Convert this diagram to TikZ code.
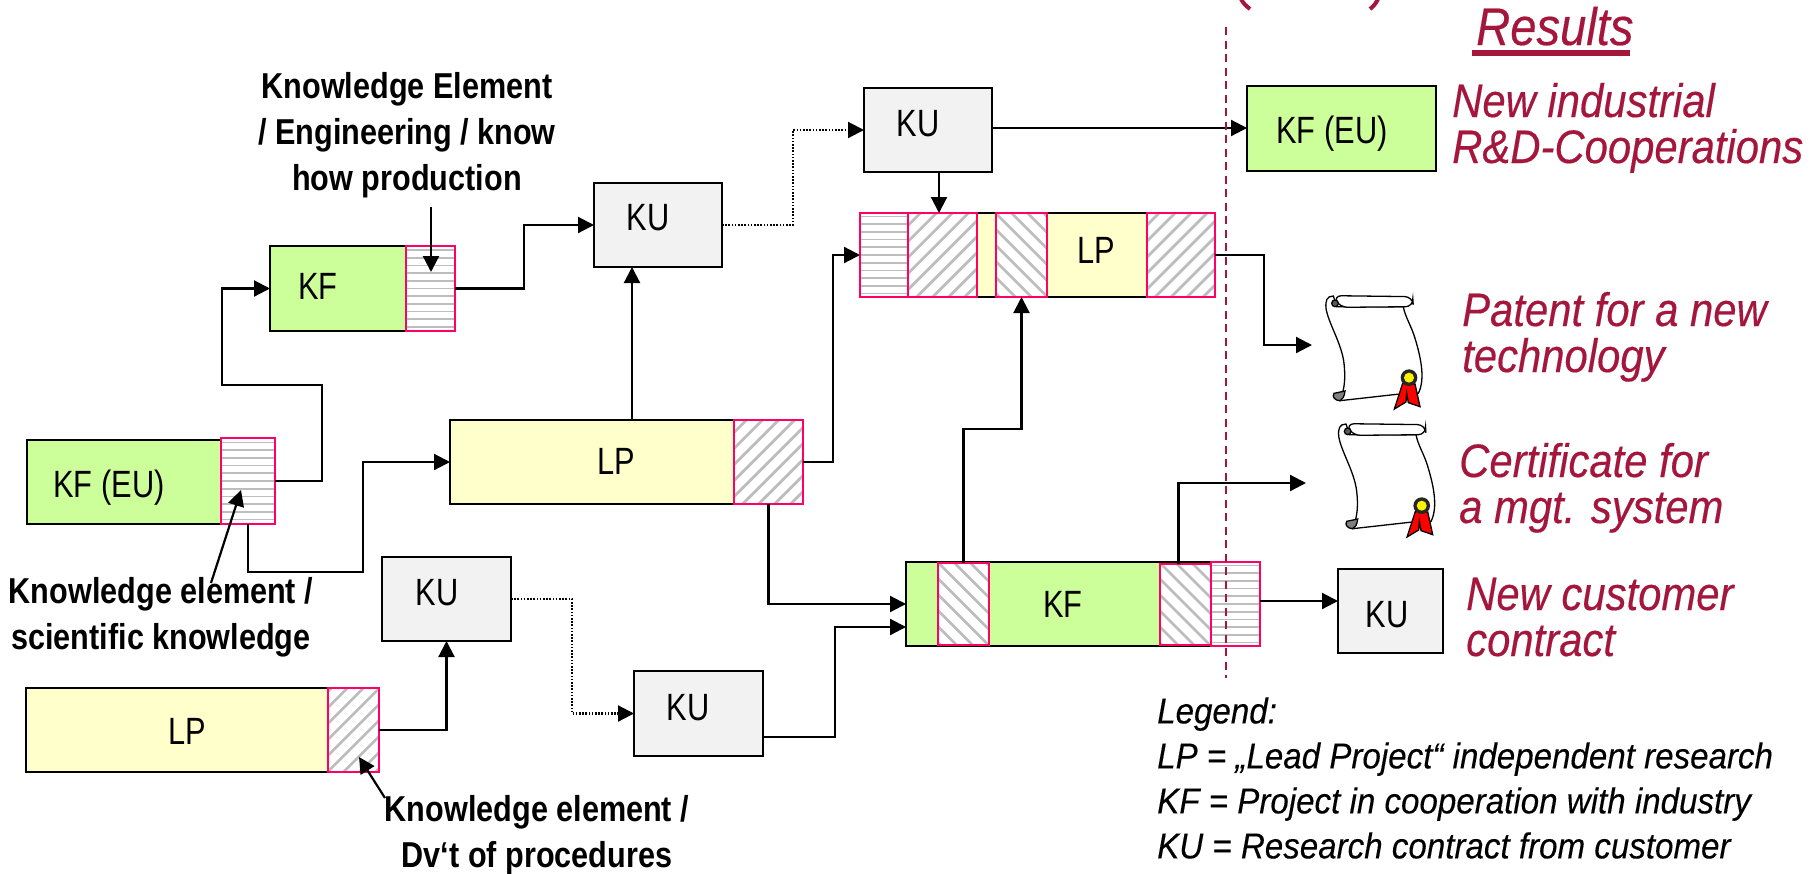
\documentclass[tikz,border=0pt]{standalone}
\usepackage{fontspec}
\usetikzlibrary{arrows.meta}
\newfontfamily\flabel[FakeStretch=0.81]{Liberation Sans}
\newfontfamily\fnote[FakeStretch=0.85]{Liberation Sans}
\newfontfamily\flegend[FakeStretch=0.92,FakeBold=0.2]{Liberation Sans}
\newfontfamily\fred[FakeStretch=0.89,FakeBold=0.35]{Liberation Sans}
\definecolor{kfgreen}{HTML}{CCFF99}
\definecolor{lpyellow}{HTML}{FFFFCC}
\definecolor{kugray}{HTML}{F2F2F2}
\definecolor{edgepink}{HTML}{FF0066}
\definecolor{hatchgray}{HTML}{BDBDBD}
\definecolor{crimson}{HTML}{A5163C}
\tikzset{
  plainbox/.style={draw=black,line width=2.2pt,inner sep=0pt,outer sep=0pt},
  kfbox/.style={plainbox,fill=kfgreen},
  lpbox/.style={plainbox,fill=lpyellow},
  kubox/.style={plainbox,fill=kugray},
  hatchbase/.style={draw=edgepink,line width=2.2pt,fill=white,inner sep=0pt,outer sep=0pt},
  hatchflat/.style={hatchbase,path picture={
    \begin{scope}[shift={(path picture bounding box.center)}]
      \foreach \d in {-100.1,-92.4,...,100} \draw[hatchgray,line width=1.7pt] (-100,\d) -- (100,\d);
    \end{scope}}},
  hatchup/.style={hatchbase,path picture={
    \begin{scope}[shift={(path picture bounding box.center)}]
      \foreach \d in {-208,-192,...,208} \draw[hatchgray,line width=2.8pt] (\d-100,100) -- (\d+100,-100);
    \end{scope}}},
  hatchdown/.style={hatchbase,path picture={
    \begin{scope}[shift={(path picture bounding box.center)}]
      \foreach \d in {-208,-192,...,208} \draw[hatchgray,line width=2.8pt] (\d-100,-100) -- (\d+100,100);
    \end{scope}}},
  conn/.style={line width=2.2pt,-{Triangle[length=16pt,width=16pt]}},
  dotconn/.style={conn,dash pattern=on 1.6pt off 1.6pt},
  boxlabel/.style={anchor=base,inner sep=0pt,font=\flabel\fontsize{38}{44}\selectfont},
  notetext/.style={inner sep=0pt,align=center,font=\fnote\bfseries\fontsize{36}{46}\selectfont},
  redtext/.style={inner sep=0pt,align=left,anchor=base west,text=crimson,font=\fred\itshape\fontsize{47}{46}\selectfont},
  legendtext/.style={inner sep=0pt,align=left,font=\flegend\itshape\fontsize{36}{45}\selectfont},
}
\newcommand{\bx}[6]{%
  \pgfmathsetmacro\bxw{#5-#3}\pgfmathsetmacro\bxh{#6-#4}%
  \node[#1,minimum width=\bxw pt,minimum height=\bxh pt] (#2) at ({(#3+#5)/2},{(#4+#6)/2}) {};}
\newcommand{\scrollart}[1]{%
  \begin{scope}[shift={(#1)},scale=1/3,line width=1.3pt]
    \draw[fill=white] (100,48) .. controls (80,48) and (76,62) .. (78,85)
      .. controls (85,130) and (125,190) .. (132,250)
      .. controls (136,290) and (136,320) .. (120,362)
      -- (290,343) -- (355,340)
      .. controls (375,300) and (365,240) .. (345,175)
      .. controls (335,140) and (315,110) .. (310,80) -- (110,80) -- cycle;
    \draw[fill=white,rounded corners=8pt] (100,47) -- (338,50) -- (340,80) -- (118,82) -- cycle;
    \draw[fill=gray!70!black] (105,70) circle (10);
    \draw[fill=gray] (120,362) .. controls (105,362) and (95,350) .. (102,340) -- (135,333) .. controls (133,350) and (128,358) .. (120,362) -- cycle;
    \draw[fill=red] (308,310) -- (283,387) -- (318,366) -- (320,340) -- (325,368) -- (360,380) -- (345,312) -- cycle;
    \fill[black!85] (327,293) circle (25);
    \fill[yellow] (327,293) circle (15);
  \end{scope}}
\begin{document}
\begin{tikzpicture}[x=1pt,y=-1pt]
\useasboundingbox (0,0) rectangle (1819,873);

% boxes
\bx{kfbox}{kfa}{27}{440}{221}{524}
\bx{hatchflat}{kfah}{221}{438}{275}{524}
\bx{lpbox}{lpl}{26}{688}{328}{772}
\bx{hatchup}{lplh}{328}{688}{379}{772}
\bx{kubox}{kulo}{382}{557}{511}{641}
\bx{kubox}{kulw}{634}{671}{763}{756}
\bx{lpbox}{lpm}{450}{420}{734}{504}
\bx{hatchup}{lpmh}{734}{420}{803}{504}
\bx{kubox}{kum}{594}{183}{722}{267}
\bx{kubox}{kut}{864}{88}{992}{172}
\bx{kfbox}{kfs}{270}{246}{406}{331}
\bx{hatchflat}{kfsh}{406}{246}{455}{331}
\bx{lpbox}{bar}{860}{213}{1215}{297}
\bx{hatchflat}{barh}{860}{213}{908}{297}
\bx{hatchup}{baru}{908}{213}{977}{297}
\bx{hatchdown}{bard}{996}{213}{1047}{297}
\bx{hatchup}{barv}{1147}{213}{1215}{297}
\bx{kfbox}{kfb}{906}{562}{1260}{646}
\bx{hatchdown}{kfbd}{938}{563}{989}{645}
\bx{hatchflat}{kfbh}{1211}{562}{1260}{646}
\bx{hatchdown}{kfbe}{1160}{564}{1211}{645}
\bx{kubox}{kur}{1338}{569}{1443}{653}
\bx{kfbox}{kfr}{1247}{86}{1436}{171}

% box labels
\node[boxlabel] (tkfa) at (109,497) {KF (EU)};
\node[boxlabel] (tkfs) at (318,299) {KF};
\node[boxlabel] (tkum) at (648,230) {KU};
\node[boxlabel] (tkut) at (918,136) {KU};
\node[boxlabel] (tlpm) at (616,474) {LP};
\node[boxlabel] (tbar) at (1096,263) {LP};
\node[boxlabel] (tkulo) at (437,605) {KU};
\node[boxlabel] (tkulw) at (688,720) {KU};
\node[boxlabel] (tlpl) at (187,744) {LP};
\node[boxlabel] (tkfb) at (1063,617) {KF};
\node[boxlabel] (tkur) at (1387,627) {KU};
\node[boxlabel] (tkfr) at (1332,143) {KF (EU)};

% scrolls
\scrollart{1300,280}
\scrollart{1312.7,408}
\coordinate (scrollA) at (1312,345);
\coordinate (scrollB) at (1306,483);

% connectors
\draw[conn] (kfah.east) -- ++(47,0) -- ++(0,-96) -- ++(-100,0) |- (kfs.west);
\draw[conn] (kfah.south) -- ++(0,48) -- ++(115,0) |- (lpm.west);
\draw[conn] (kfsh.east) -- ++(69,0) |- (kum.west);
\coordinate (lpup) at ([xshift=182pt]lpm.north west);
\draw[conn] (lpup) -- (lpup |- kum.south);
\draw[dotconn] (kum.east) -- ++(71,0) |- (kut.west);
\coordinate (kutout) at ([yshift=2pt]kut.east);
\draw[conn] (kutout) -- (kutout -| kfr.west);
\coordinate (kudown) at ([xshift=11pt]kut.south);
\draw[conn] (kudown) -- (kudown |- baru.north);
\draw[conn] (lpmh.east) -- ++(30,0) |- (barh.west);
\draw[conn] (lpmh.south) |- (kfb.west);
\draw[conn] ([yshift=-23.5pt]kulw.east) -- ++(72,0) |- ([yshift=-23pt]kfb.west);
\draw[conn] (kfbd.north) -- ++(0,-134) -| (bard.south);
\draw[conn] ([xshift=-7pt]kfbe.north) |- (scrollB);
\coordinate (kfbout) at ([yshift=3pt]kfbh.east);
\draw[conn] (kfbout) -- (kfbout -| kur.west);
\draw[conn] (barv.east) -- ++(49,0) |- (scrollA);
\draw[conn] (lplh.east) -| (kulo.south);
\draw[dotconn] (kulo.east) -- ++(61,0) |- (kulw.west);

% dashed divider
\coordinate (divtop) at (1226,27);
\coordinate (divbot) at (1226,678);
\draw[crimson,line width=1.8pt,dash pattern=on 8pt off 5.5pt] (divtop) -- (divbot);

% annotation arrows
\coordinate (noteAs) at (431,207);
\coordinate (noteAe) at (431,272);
\draw[conn] (noteAs) -- (noteAe);
\coordinate (noteBs) at (211,583);
\coordinate (noteBe) at (241,490);
\draw[conn] (noteBs) -- (noteBe);
\coordinate (noteCs) at (385,798);
\coordinate (noteCe) at (359,757);
\draw[conn] (noteCs) -- (noteCe);

% annotations
\node[notetext] (noteA) at (407,135) {Knowledge Element\\/ Engineering / know\\how production};
\node[notetext] (noteB) at (161,617) {Knowledge element /\\scientific knowledge};
\node[notetext] (noteC) at (537,835) {Knowledge element /\\Dv‘t of procedures};

% results
\node[redtext,font=\fred\itshape\fontsize{53}{50}\selectfont] (results) at (1476,45) {Results};
\fill[crimson] (1472,50) rectangle (1630,56);
\node[redtext] (resa) at (1452,163) {New industrial\\R\&D-Cooperations};
\node[redtext] (resb) at (1462,372) {Patent for a new\\technology};
\node[redtext] (resc) at (1459,523) {Certificate for\\a mgt. system};
\node[redtext] (resd) at (1466,656) {New customer\\contract};

% legend
\node[legendtext,anchor=west] (legend) at (1157,778) {Legend:\\LP = „Lead Project“ independent research\\KF = Project in cooperation with industry\\KU = Research contract from customer};

% cut-off bracket at the top edge
\draw[crimson,line width=4pt] (1241,-1) .. controls (1243,3) and (1246,6) .. (1250,9);
\draw[crimson,line width=4pt] (1378,-1) .. controls (1376,3) and (1374,6) .. (1370,9);
\end{tikzpicture}
\end{document}
